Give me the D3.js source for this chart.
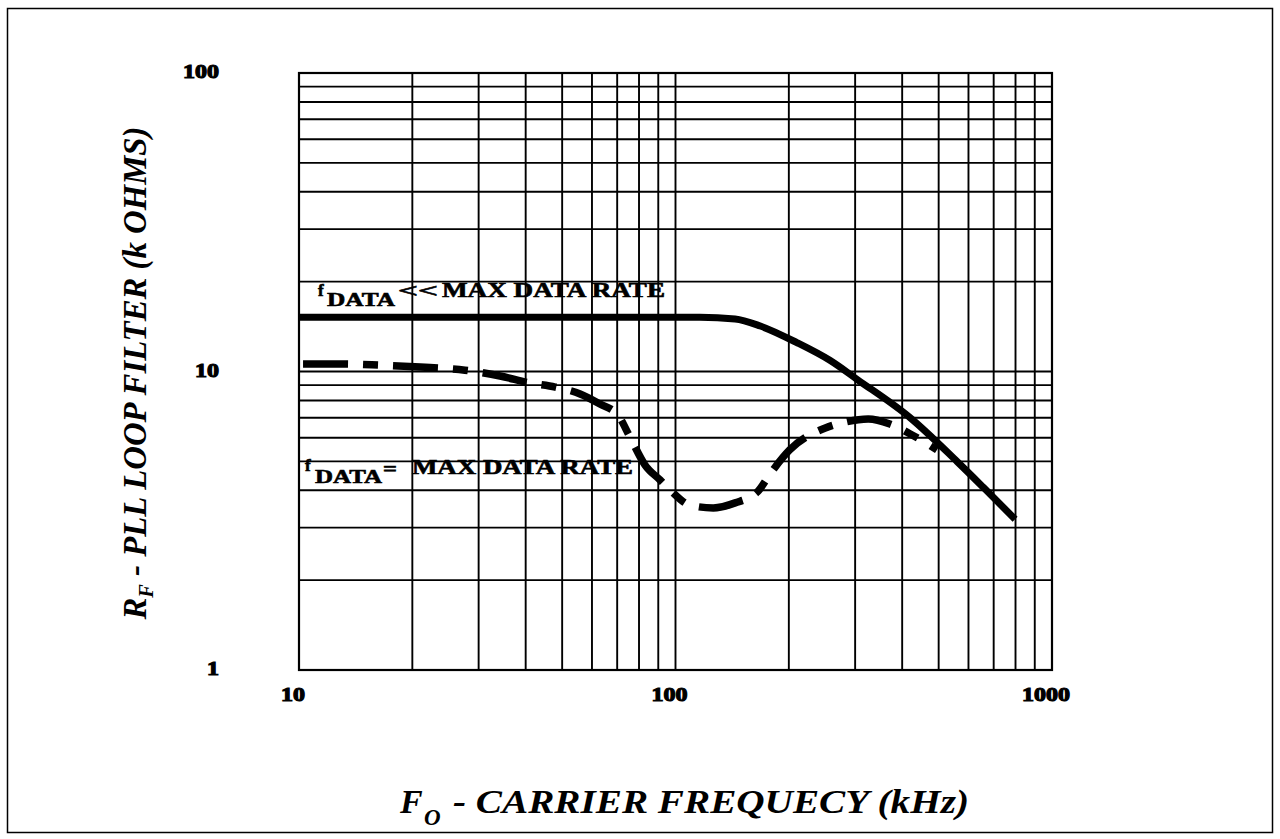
<!DOCTYPE html>
<html><head><meta charset="utf-8">
<script src="https://cdn.jsdelivr.net/npm/d3@7"></script>
<style>html,body{margin:0;padding:0;background:#fff;} svg{display:block;}</style>
</head><body>
<svg id="chart" width="1280" height="839"></svg>
<script>
// ---- data ----
const xTickValues = [10, 100, 1000];
const xTickLabels = ["10", "100", "1000"];
const yTickValues = [1, 10, 100];
const yTickLabels = ["1", "10", "100"];

// f_DATA << MAX DATA RATE (solid)
const freqSlow = [10, 30, 60, 116, 144, 168, 210, 257, 304, 420, 559, 656, 798];
const rfSlow   = [15.2, 15.2, 15.2, 15.2, 15.0, 14.2, 12.5, 10.9, 9.4, 7.0, 5.0, 4.1, 3.2];

// f_DATA = MAX DATA RATE (dashed)
const freqMax = [10.25, 12.85, 16.4, 21.0, 27.6, 34.2, 41.1, 47.9, 55.8, 63.0, 70.3, 75.7, 83.0, 91.0, 97.9, 109, 126, 144, 165, 179, 201, 250, 282, 325, 371, 425, 495];
const rfMax   = [10.6, 10.6, 10.5, 10.35, 10.1, 9.66, 9.15, 8.87, 8.41, 7.78, 7.15, 6.03, 4.86, 4.33, 3.95, 3.57, 3.49, 3.63, 3.95, 4.57, 5.46, 6.47, 6.77, 6.93, 6.67, 6.13, 5.46];

const xTitleMain = "F";
const xTitleSub = "O";
const xTitleRest = "- CARRIER FREQUECY (kHz)";
const yTitleMain = "R";
const yTitleSub = "F";
const yTitleRest = " - PLL LOOP FILTER (k OHMS)";

// ---- layout ----
const svg = d3.select("#chart");
const L = 299, R = 1052, T = 73, B = 670;
const x = d3.scaleLog().domain([10, 1000]).range([L, R]);
const y = d3.scaleLog().domain([1, 100]).range([B, T]);

// outer frame
svg.append("rect").attr("x", 7.5).attr("y", 8.5).attr("width", 1265).attr("height", 824)
  .attr("fill", "none").attr("stroke", "#000").attr("stroke-width", 1.5);

// grid
const grid = svg.append("g").attr("stroke", "#000").attr("stroke-width", 1.9);
grid.selectAll("line.v").data(x.ticks()).join("line").attr("class", "v")
  .attr("x1", d => x(d)).attr("x2", d => x(d)).attr("y1", T).attr("y2", B);
grid.selectAll("line.h").data(y.ticks()).join("line").attr("class", "h")
  .attr("y1", d => y(d)).attr("y2", d => y(d)).attr("x1", L).attr("x2", R);
svg.append("rect").attr("x", L).attr("y", T).attr("width", R - L).attr("height", B - T)
  .attr("fill", "none").attr("stroke", "#000").attr("stroke-width", 2.2);

// tick labels
const tickFont = "'Liberation Serif', serif";
svg.selectAll("text.yt").data(yTickValues).join("text").attr("class", "yt")
  .attr("x", 219).attr("y", d => y(d) + 5).attr("text-anchor", "end")
  .attr("font-family", tickFont).attr("font-weight", "bold").attr("font-size", 19)
  .attr("stroke", "#000").attr("stroke-width", 1.1)
  .attr("textLength", (d, i) => 12 * yTickLabels[i].length).attr("lengthAdjust", "spacingAndGlyphs")
  .text((d, i) => yTickLabels[i]);
svg.selectAll("text.xt").data(xTickValues).join("text").attr("class", "xt")
  .attr("x", d => x(d) - 6).attr("y", B + 31).attr("text-anchor", "middle")
  .attr("font-family", tickFont).attr("font-weight", "bold").attr("font-size", 19)
  .attr("stroke", "#000").attr("stroke-width", 1.1)
  .attr("textLength", (d, i) => 12 * xTickLabels[i].length).attr("lengthAdjust", "spacingAndGlyphs")
  .text((d, i) => xTickLabels[i]);

// curves
const line = d3.line().x(d => x(d[0])).y(d => y(d[1])).curve(d3.curveMonotoneX);
svg.append("path").datum(freqSlow.map((f, i) => [f, rfSlow[i]]))
  .attr("d", line).attr("fill", "none").attr("stroke", "#000").attr("stroke-width", 7);
svg.append("path").datum(freqMax.map((f, i) => [f, rfMax[i]]))
  .attr("d", line).attr("fill", "none").attr("stroke", "#000").attr("stroke-width", 7.5)
  .attr("stroke-dasharray", "45 15 15 15");

// curve annotations
const annFont = "'Liberation Serif', serif";
function ann(txt, xx, yy, size, len) {
  const t = svg.append("text").attr("x", xx).attr("y", yy)
    .attr("font-family", annFont).attr("font-weight", "bold").attr("font-size", size)
    .attr("stroke", "#000").attr("stroke-width", 0.6).text(txt);
  if (len) t.attr("textLength", len).attr("lengthAdjust", "spacingAndGlyphs");
  return t;
}
// upper
ann("f", 318, 296, 17);
ann("DATA", 327, 306, 19.5, 68);
ann("<<", 398, 297, 19.5, 40);
ann("MAX DATA RATE", 442, 297, 20, 223);
// lower
ann("f", 305, 471, 17);
ann("DATA", 315, 483, 19.5, 67);
ann("=", 383, 475, 19.5, 14);
ann("MAX DATA RATE", 412, 474, 20, 221);

// axis titles
const titleFont = "'Liberation Serif', serif";
const yt = svg.append("text")
  .attr("transform", "translate(146,373) rotate(-90)")
  .attr("text-anchor", "middle")
  .attr("font-family", titleFont).attr("font-weight", "bold").attr("font-style", "italic")
  .attr("font-size", 34).attr("textLength", 493).attr("lengthAdjust", "spacingAndGlyphs");
yt.append("tspan").text(yTitleMain);
yt.append("tspan").attr("dy", 7).attr("font-size", 21).text(yTitleSub);
yt.append("tspan").attr("dy", -7).text(yTitleRest);

const xtg = svg.append("g").attr("font-family", titleFont).attr("font-weight", "bold")
  .attr("font-style", "italic");
xtg.append("text").attr("x", 400).attr("y", 813).attr("font-size", 34).text(xTitleMain);
xtg.append("text").attr("x", 424).attr("y", 825).attr("font-size", 23).text(xTitleSub);
xtg.append("text").attr("x", 453).attr("y", 813).attr("font-size", 34)
  .attr("textLength", 516).attr("lengthAdjust", "spacingAndGlyphs").text(xTitleRest);
</script>
</body></html>
